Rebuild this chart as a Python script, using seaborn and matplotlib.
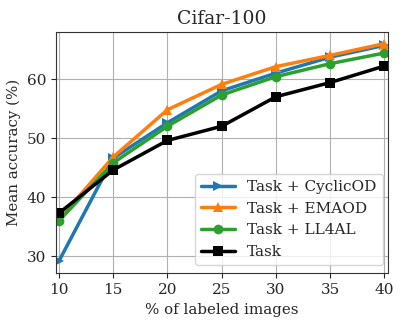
import numpy as np
import pandas as pd
import matplotlib
matplotlib.use("Agg")
import matplotlib.pyplot as plt
import seaborn as sns

labeled_pct = [10, 15, 20, 25, 30, 35, 40]
cyclicod = [29.2, 46.6, 52.6, 58.0, 61.0, 63.7, 65.7]
emaod = [36.3, 46.8, 54.8, 59.1, 62.1, 64.0, 66.0]
ll4al = [36.0, 45.8, 52.0, 57.3, 60.4, 62.6, 64.4]
task = [37.3, 44.6, 49.6, 52.0, 57.0, 59.4, 62.2]

series = ["Task + CyclicOD", "Task + EMAOD", "Task + LL4AL", "Task"]
colors = ["#1f77b4", "#ff7f0e", "#2ca02c", "black"]
markers = [">", "^", "o", "s"]

df = pd.DataFrame({
    "pct": labeled_pct * 4,
    "acc": cyclicod + emaod + ll4al + task,
    "method": sum([[s] * len(labeled_pct) for s in series], []),
})

sns.set_style("ticks")
plt.rcParams["font.family"] = "DejaVu Serif"

fig = plt.figure(figsize=(4.07, 3.26), dpi=100)
ax = fig.add_axes([0.1376, 0.1617, 0.8165, 0.739])

for name, color, mk in zip(series, colors, markers):
    sub = df[df["method"] == name]
    sns.lineplot(data=sub, x="pct", y="acc", ax=ax, color=color, marker=mk,
                 markersize=7, linewidth=2.5, markeredgewidth=0, label=name)

ax.set_xlim(9.72, 40.37)
ax.set_ylim(27.1, 67.9)
ax.set_xticks(labeled_pct)
ax.set_yticks([30, 40, 50, 60])
ax.tick_params(labelsize=11)
ax.grid(True, color="#b0b0b0", linewidth=0.8)
for s in ax.spines.values():
    s.set_color("#333333")

ax.set_title("Cifar-100", fontsize=13.5)
ax.set_xlabel("% of labeled images", fontsize=10.8)
ax.set_ylabel("Mean accuracy (%)", fontsize=10.8)
ax.legend(loc="lower right", bbox_to_anchor=(0.983, 0.034), borderaxespad=0,
          prop={"size": 11}, handlelength=2.2)

fig.savefig("out.png", dpi=100)
